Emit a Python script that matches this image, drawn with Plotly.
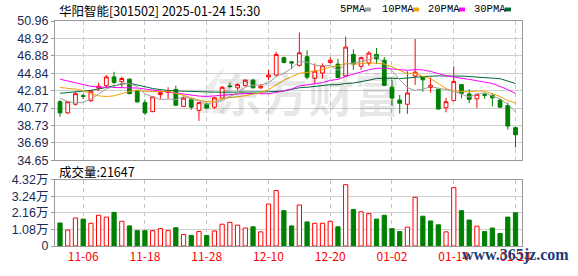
import plotly.graph_objects as go

# ---------------- data ----------------
dates = [
    "2024-11-01", "2024-11-04", "2024-11-05", "2024-11-06", "2024-11-07", "2024-11-08",
    "2024-11-11", "2024-11-12", "2024-11-13", "2024-11-14", "2024-11-15",
    "2024-11-18", "2024-11-19", "2024-11-20", "2024-11-21", "2024-11-22",
    "2024-11-25", "2024-11-26", "2024-11-27", "2024-11-28", "2024-11-29",
    "2024-12-02", "2024-12-03", "2024-12-04", "2024-12-05", "2024-12-06",
    "2024-12-09", "2024-12-10", "2024-12-11", "2024-12-12", "2024-12-13",
    "2024-12-16", "2024-12-17", "2024-12-18", "2024-12-19", "2024-12-20",
    "2024-12-23", "2024-12-24", "2024-12-25", "2024-12-26", "2024-12-27",
    "2024-12-30", "2024-12-31", "2025-01-02", "2025-01-03",
    "2025-01-06", "2025-01-07", "2025-01-08", "2025-01-09", "2025-01-10",
    "2025-01-13", "2025-01-14", "2025-01-15", "2025-01-16", "2025-01-17",
    "2025-01-20", "2025-01-21", "2025-01-22", "2025-01-23", "2025-01-24",
]
opens = [41.52, 40.21, 41.22, 42.22, 41.64, 43.10, 43.40, 44.42, 43.85, 44.16,
         42.84, 41.41, 40.36, 42.35, 42.60, 42.95, 40.96, 41.75, 40.51, 41.22,
         40.88, 41.94, 43.36, 43.14, 43.40, 44.04, 43.14, 44.42, 44.64, 46.67,
         46.18, 45.77, 46.79, 44.27, 44.87, 46.11, 45.92, 44.53, 47.05, 45.66,
         46.03, 47.05, 46.37, 43.22, 41.71, 41.22, 44.53, 44.42, 43.18, 42.99,
         40.81, 41.64, 43.52, 42.43, 41.86, 42.35, 42.24, 41.71, 41.07, 38.48]
highs = [41.71, 41.60, 42.65, 42.46, 42.91, 43.74, 44.64, 45.02, 44.46, 44.23,
         42.90, 41.79, 42.15, 42.76, 43.21, 43.40, 42.10, 41.90, 41.45, 41.41,
         42.09, 43.36, 43.74, 43.67, 44.12, 44.20, 43.59, 45.25, 47.35, 46.80,
         46.30, 49.61, 47.54, 46.00, 46.00, 46.75, 46.52, 49.12, 47.65, 46.79,
         47.43, 47.80, 46.75, 44.04, 42.31, 45.09, 48.85, 44.50, 44.34, 43.02,
         41.97, 45.66, 43.60, 42.99, 42.46, 42.54, 42.54, 41.86, 41.41, 38.60]
lows = [39.76, 40.10, 41.07, 41.82, 41.49, 42.76, 43.14, 43.59, 43.14, 42.39,
        41.45, 39.95, 40.30, 41.86, 41.86, 41.00, 40.90, 40.58, 39.27, 40.73,
        40.66, 41.82, 43.07, 42.84, 43.29, 43.10, 43.03, 44.05, 44.42, 46.00,
        45.36, 45.62, 44.12, 43.67, 44.23, 46.00, 44.27, 44.42, 45.25, 45.25,
        45.73, 45.92, 43.37, 41.03, 40.13, 40.09, 43.48, 42.69, 42.58, 40.60,
        40.28, 41.60, 41.90, 41.34, 40.77, 41.86, 40.96, 40.85, 38.25, 36.15]
closes = [40.21, 41.52, 42.46, 42.15, 42.76, 43.33, 44.42, 43.78, 44.23, 42.46,
          41.49, 40.21, 42.09, 42.58, 42.76, 41.11, 41.94, 40.88, 41.41, 40.77,
          41.98, 43.21, 43.30, 43.52, 44.04, 43.14, 43.33, 44.64, 47.05, 46.10,
          46.05, 47.24, 44.38, 45.09, 45.73, 46.37, 44.34, 47.91, 45.92, 46.67,
          47.20, 46.52, 43.44, 41.94, 41.34, 42.54, 44.98, 44.08, 43.44, 40.66,
          41.52, 43.89, 42.50, 41.79, 42.39, 42.28, 41.97, 40.88, 38.67, 37.65]
volumes = [15000, 10400, 18200, 17500, 14800, 20000, 18800, 21900, 16100, 13100,
           10000, 10000, 10000, 11300, 10000, 11900, 7500, 6900, 9400, 6900,
           9800, 14200, 15400, 13600, 11700, 12500, 9200, 27300, 36100, 23000,
           13100, 26700, 15700, 14800, 14800, 16100, 12500, 39900, 23800, 22300,
           21100, 17500, 20000, 11300, 9400, 12300, 31700, 19400, 16300, 13800,
           9200, 38000, 23000, 16900, 12900, 9400, 11700, 8100, 18800, 21647]
ma5 = [41.94, 41.55, 41.38, 41.45, 41.82, 42.44, 43.02, 43.29, 43.70, 43.64,
       43.28, 42.43, 42.10, 41.77, 41.83, 41.75, 42.10, 41.85, 41.62, 41.22,
       41.40, 41.65, 42.13, 42.56, 43.21, 43.44, 43.47, 43.73, 44.44, 44.85,
       45.43, 46.22, 46.16, 45.77, 45.70, 45.76, 45.18, 45.89, 46.05, 46.24,
       46.41, 46.84, 45.95, 45.15, 44.09, 43.16, 42.85, 42.98, 43.28, 43.14,
       42.94, 42.72, 42.40, 42.07, 42.42, 42.57, 42.19, 41.86, 41.24, 40.29]
ma10 = [43.18, 43.08, 43.00, 42.80, 42.45, 42.20, 42.13, 42.20, 42.45, 42.73,
        42.86, 42.73, 42.69, 42.74, 42.74, 42.51, 42.27, 41.98, 41.69, 41.52,
        41.57, 41.87, 41.99, 42.09, 42.22, 42.42, 42.56, 42.93, 43.50, 44.03,
        44.44, 44.84, 44.95, 45.11, 45.28, 45.60, 45.70, 46.03, 45.91, 45.97,
        46.09, 46.01, 45.92, 45.60, 45.17, 44.78, 44.85, 44.46, 44.22, 43.61,
        43.05, 42.78, 42.69, 42.67, 42.78, 42.75, 42.45, 42.13, 41.66, 41.35]
ma20 = [44.15, 43.95, 43.70, 43.50, 43.32, 43.22, 43.20, 43.20, 43.20, 43.18,
        43.12, 43.00, 42.88, 42.76, 42.64, 42.50, 42.36, 42.25, 42.18, 42.13,
        42.22, 42.30, 42.34, 42.41, 42.48, 42.47, 42.41, 42.45, 42.60, 42.78,
        43.01, 43.36, 43.47, 43.60, 43.75, 44.01, 44.13, 44.48, 44.71, 45.00,
        45.26, 45.43, 45.43, 45.36, 45.22, 45.19, 45.27, 45.24, 45.06, 44.79,
        44.57, 44.40, 44.30, 44.14, 43.97, 43.77, 43.65, 43.30, 42.94, 42.48]
ma30 = [42.50, 42.58, 42.66, 42.75, 42.85, 43.00, 43.20, 43.40, 43.58, 43.68,
        43.52, 43.28, 43.06, 42.90, 42.82, 42.78, 42.74, 42.70, 42.68, 42.66,
        42.64, 42.63, 42.62, 42.62, 42.63, 42.64, 42.66, 42.68, 42.72, 42.76,
        42.96, 43.15, 43.21, 43.31, 43.41, 43.51, 43.51, 43.65, 43.70, 43.84,
        44.03, 44.24, 44.29, 44.27, 44.22, 44.27, 44.37, 44.47, 44.54, 44.54,
        44.52, 44.55, 44.52, 44.46, 44.41, 44.38, 44.33, 44.21, 43.93, 43.65]

price_ticks = [34.65, 36.69, 38.73, 40.77, 42.81, 44.84, 46.88, 48.92, 50.96]
price_tick_text = ["34.65", "36.69", "38.73", "40.77", "42.81", "44.84", "46.88", "48.92", "50.96"]
vol_ticks = [0, 10800, 21600, 32400, 43200]
vol_tick_text = ["0", "1.08万", "2.16万", "3.24万", "4.32万"]
label_dates = dates[3::8]
label_text = [d[5:] for d in label_dates]

title_text = "华阳智能[301502] 2025-01-24 15:30"
vol_title = "成交量:21647"
ma_names = ["5PMA", "10PMA", "20PMA", "30PMA"]
ma_colors = ["#a0a0a0", "#f0a000", "#ff00ff", "#006a35"]

# ---------------- geometry helpers (pixels -> paper) ----------------
W, H = 578, 276
ML, MR, MT, MB = 55, 56, 21, 21
PW, PH = W - ML - MR, H - MT - MB


def px(x):
    return (x - ML) / PW


def py(y):
    return (H - MB - y) / PH


RED = "#ff0000"
GREEN = "#008000"

fig = go.Figure()

fig.add_trace(go.Candlestick(
    x=dates, open=opens, high=highs, low=lows, close=closes,
    increasing=dict(line=dict(color=RED, width=1), fillcolor="#ffffff"),
    decreasing=dict(line=dict(color=GREEN, width=1), fillcolor=GREEN),
    whiskerwidth=0, showlegend=False, hoverinfo="skip",
    xaxis="x", yaxis="y",
))

for vals, col in zip([ma30, ma20, ma10, ma5], ma_colors[::-1]):
    fig.add_trace(go.Scatter(
        x=dates, y=vals, mode="lines", line=dict(color=col, width=1),
        showlegend=False, hoverinfo="skip", xaxis="x", yaxis="y",
    ))

up = []
for i, c in enumerate(closes):
    ref = closes[i - 1] if i > 0 else opens[i]
    up.append(c >= ref)
fill = ["#ffffff" if u else GREEN for u in up]
edge = [RED if u else GREEN for u in up]
fig.add_trace(go.Bar(
    x=dates, y=volumes, width=0.55,
    marker=dict(color=fill, line=dict(color=edge, width=1)),
    showlegend=False, hoverinfo="skip", xaxis="x2", yaxis="y2",
))

FRAME = "#999999"
GRID = "#cfcfcf"
TICKFONT = dict(family="Liberation Sans, Arial, sans-serif", size=12.5, color="#1c2a55")

xcommon = dict(
    type="category", range=[-0.65, 59.84], tickvals=label_dates,
    showgrid=True, gridcolor="#c4c4c4", griddash="4px,4px", gridwidth=1,
    showline=True, mirror=True, linecolor=FRAME, linewidth=1, ticks="",
    zeroline=False, fixedrange=True,
)

fig.update_layout(
    width=W, height=H,
    margin=dict(l=ML, r=MR, t=MT, b=MB, pad=0),
    paper_bgcolor="#ffffff", plot_bgcolor="#ffffff",
    showlegend=False,
    xaxis=dict(**xcommon, domain=[0, 1], anchor="y", showticklabels=False,
               rangeslider=dict(visible=False)),
    xaxis2=dict(**xcommon, domain=[0, 1], anchor="y2", ticktext=label_text,
                showticklabels=True,
                tickfont=dict(family="Noto Sans CJK SC, sans-serif", size=12, color=RED)),
    yaxis=dict(domain=[py(166), 1], range=[34.65, 50.96], tickvals=price_ticks,
               ticktext=price_tick_text, showgrid=True, gridcolor=GRID, gridwidth=1,
               showline=True, mirror=True, linecolor=FRAME, linewidth=1,
               ticks="outside", ticklen=3, tickcolor=FRAME, tickfont=TICKFONT,
               zeroline=False, anchor="x"),
    yaxis2=dict(domain=[0, py(186)], range=[0, 43200], tickvals=vol_ticks,
                ticktext=vol_tick_text, showgrid=True, gridcolor=GRID, gridwidth=1,
                showline=True, mirror=True, linecolor=FRAME, linewidth=1,
                ticks="outside", ticklen=3, tickcolor=FRAME,
                tickfont=dict(family="Liberation Sans, Noto Sans CJK SC, sans-serif",
                              size=12.5, color="#1c2a55"),
                zeroline=False, anchor="x2"),
)

annotations = [
    dict(text=title_text, x=px(57), y=py(10), xref="paper", yref="paper",
         xanchor="left", yanchor="middle", showarrow=False,
         font=dict(family="Noto Sans CJK SC, sans-serif", size=12.5, color="#000000")),
    dict(text=vol_title, x=px(57), y=py(177), xref="paper", yref="paper",
         xanchor="left", yanchor="middle", showarrow=False,
         font=dict(family="Noto Sans CJK SC, sans-serif", size=12.5, color="#000000")),
    dict(text="东方财富", x=px(308), y=py(95), xref="paper", yref="paper",
         xanchor="center", yanchor="middle", showarrow=False,
         font=dict(family="Noto Sans CJK SC, sans-serif", size=46,
                   color="rgba(0,0,0,0.09)", weight="bold")),
    dict(text="www.365jz.com", x=px(571), y=py(264), xref="paper", yref="paper",
         xanchor="right", yanchor="middle", showarrow=False,
         font=dict(family="Liberation Serif, serif", size=16, color="#1d3c78",
                   weight="bold")),
]

shapes = []
leg_text_x = [338, 380, 426, 472]
leg_box_x = [365, 413, 459, 505]
for name, col, tx, bx in zip(ma_names, ma_colors, leg_text_x, leg_box_x):
    annotations.append(dict(
        text=name, x=px(tx), y=py(8.5), xref="paper", yref="paper",
        xanchor="left", yanchor="middle", showarrow=False,
        font=dict(family="Liberation Mono, monospace", size=10.5, color="#000000")))
    shapes.append(dict(type="rect", xref="paper", yref="paper",
                       x0=px(bx), x1=px(bx + 6), y0=py(11), y1=py(7),
                       fillcolor=col, line=dict(width=0)))


def logo_path(points):
    parts = []
    for cmd, pts in points:
        coords = " ".join(f"{px(a):.5f},{py(b):.5f}" for a, b in pts)
        parts.append(f"{cmd} {coords}")
    return " ".join(parts) + " Z"


# faint swoosh logo of the watermark
for pts in (
    [("M", [(197, 117)]), ("Q", [(203, 86), (226, 68)]), ("Q", [(211, 92), (209, 117)])],
    [("M", [(212, 117)]), ("Q", [(219, 93), (234, 80)]), ("Q", [(224, 99), (223, 117)])],
):
    shapes.append(dict(type="path", xref="paper", yref="paper", path=logo_path(pts),
                       fillcolor="rgba(0,0,0,0.07)", line=dict(width=0), layer="below"))

fig.update_layout(annotations=annotations, shapes=shapes)

fig.write_html("out.html")
